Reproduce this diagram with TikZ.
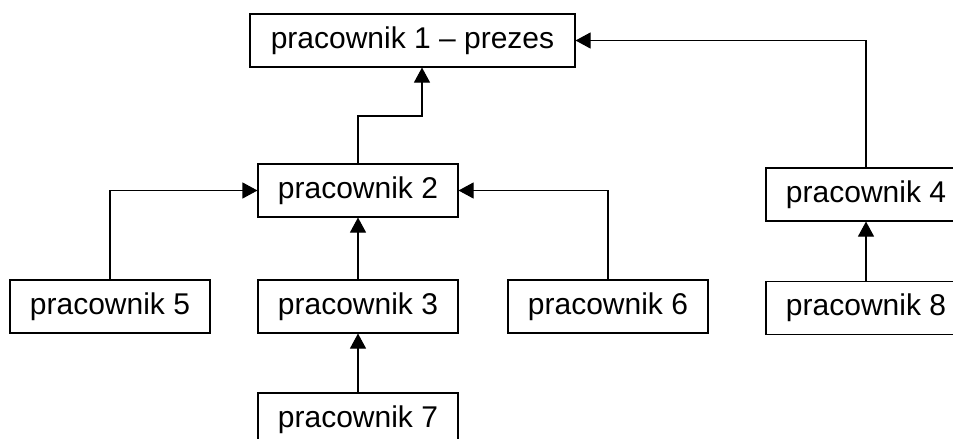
\documentclass[tikz,border=0pt]{standalone}
\usepackage{fontspec}
\setmainfont{Liberation Sans}
\usetikzlibrary{arrows.meta}
\usetikzlibrary{positioning}

\begin{document}
\begin{tikzpicture}[x=1pt,y=-1pt,box/.style={draw, line width=1.1pt, minimum width=200pt, minimum height=53pt, inner sep=0pt, font=\fontsize{30}{35}\selectfont}]
    \tikzset{arr/.style={line width=1.1pt, -{Triangle[width=16pt,length=15pt]}}}
    \useasboundingbox (0,0) rectangle (953,439);
    \clip (0,0) rectangle (953,439);
    % boxes
    \node[box, minimum width=325pt] (p1) at (412.5,40.5) {pracownik 1 -- prezes};
    \node[box] (p2) at (358,190.5) {pracownik 2};
    \node[box] (p5) at (110,306.5) {pracownik 5};
    \node[box] (p3) at (358,306.5) {pracownik 3};
    \node[box] (p6) at (608,306.5) {pracownik 6};
    \node[box] (p7) at (358,419.5) {pracownik 7};
    \node[box] (p4) at (866,194.5) {pracownik 4};
    \node[box] (p8) at (866,308) {pracownik 8};
    % connectors
    \coordinate (j1) at (422,116);
    \draw[arr] (p2.north) |- (j1) -- (j1 |- p1.south);
    \draw[arr] (p5.north) |- (p2.west);
    \draw[arr] (p6.north) |- (p2.east);
    \draw[arr] (p3) -- (p2);
    \draw[arr] (p7) -- (p3);
    \draw[arr] (p8) -- (p4);
    \draw[arr] (p4.north) |- (p1.east);
\end{tikzpicture}
\end{document}
